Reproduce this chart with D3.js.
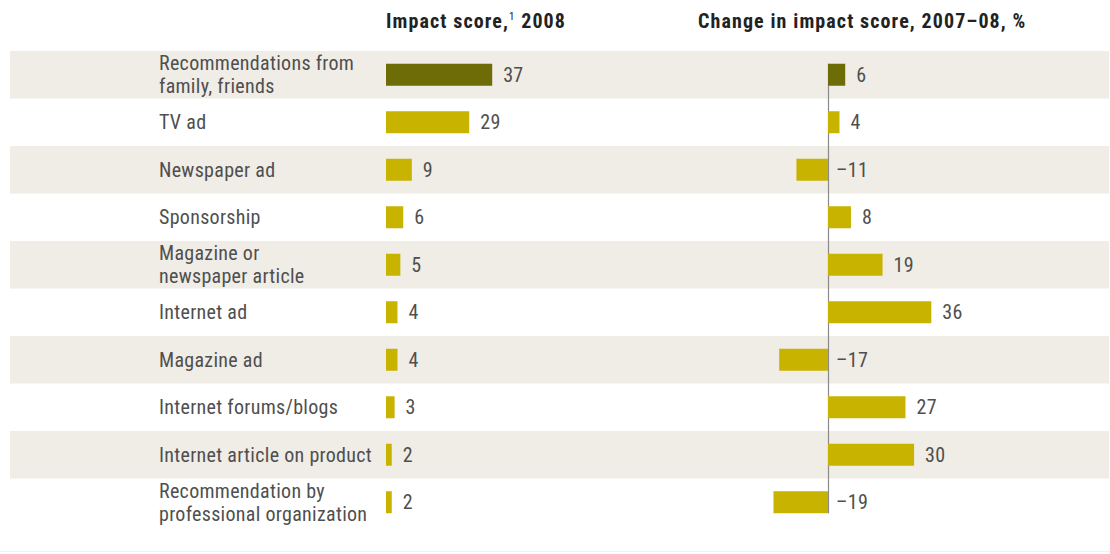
<!DOCTYPE html>
<html>
<head>
<meta charset="utf-8">
<script src="https://cdn.jsdelivr.net/npm/d3@7"></script>
<style>
  html, body { margin: 0; padding: 0; background: #ffffff; }
  svg { display: block; }
  .lbl { font-family: "Liberation Sans Narrow", "Arial Narrow", "Roboto Condensed", sans-serif; font-stretch: condensed; }
</style>
</head>
<body>
<svg id="chart" width="1110" height="554"></svg>
<script>
// Media sources, in display order (line breaks mark two-line labels)
const categories = [
  "Recommendations from\nfamily, friends",
  "TV ad",
  "Newspaper ad",
  "Sponsorship",
  "Magazine or\nnewspaper article",
  "Internet ad",
  "Magazine ad",
  "Internet forums/blogs",
  "Internet article on product",
  "Recommendation by\nprofessional organization"
];
// Impact score, 2008
const impactScores = [37, 29, 9, 6, 5, 4, 4, 3, 2, 2];
// Change in impact score, 2007–08, %
const impactChange = [6, 4, -11, 8, 19, 36, -17, 27, 30, -19];

const headers = ["Impact score,", "1", " 2008", "Change in impact score, 2007–08, %"];

const W = 1110, H = 554;
const svg = d3.select("#chart");

const colDark = "#6d6c06";
const colGold = "#c8b301";
const bandFill = "#f0ece6";
const textCol = "#4f4f4f";
const fs = 20, ls = 0.3;

const rows = d3.range(categories.length);
const y = d3.scaleBand().domain(rows).range([51, 526]).padding(0);
const barH = 22;

// Both panels share the same units-per-pixel ratio
const xLeft = d3.scaleLinear().domain([0, 40]).range([386, 386 + 40 * 2.87]);
const xRight = d3.scaleLinear().domain([-20, 40]).range([828 - 20 * 2.87, 828 + 40 * 2.87]);

// Alternating row bands
svg.append("g").selectAll("rect")
  .data(rows.filter(i => i % 2 === 0))
  .join("rect")
  .attr("x", 10).attr("width", 1099)
  .attr("y", i => y(i)).attr("height", y.bandwidth())
  .attr("fill", bandFill);

// faint rule at the foot
svg.append("line")
  .attr("x1", 0).attr("x2", W).attr("y1", 551.5).attr("y2", 551.5)
  .attr("stroke", "#f1f1f1").attr("stroke-width", 1);

// Column headers
const h1 = svg.append("text").attr("class", "lbl")
  .attr("x", xLeft(0)).attr("y", 28)
  .attr("font-size", 20).attr("letter-spacing", 1.1)
  .attr("font-weight", "bold").attr("fill", "#222");
h1.append("tspan").text(headers[0]);
h1.append("tspan").text(headers[1]).attr("font-size", 11).attr("font-weight", "normal").attr("dy", -8);
h1.append("tspan").text(headers[2]).attr("dy", 8);

svg.append("text").attr("class", "lbl")
  .attr("x", 698).attr("y", 28)
  .attr("font-size", 20).attr("letter-spacing", 1.1)
  .attr("font-weight", "bold").attr("fill", "#222")
  .text(headers[3]);

// Category labels
const cy = i => y(i) + y.bandwidth() / 2;
const labels = svg.append("g").selectAll("text")
  .data(rows).join("text")
  .attr("class", "lbl")
  .attr("x", 159)
  .attr("font-size", fs).attr("letter-spacing", ls)
  .attr("fill", textCol);
labels.each(function(i) {
  const parts = categories[i].split("\n");
  const t = d3.select(this);
  if (parts.length === 1) {
    t.attr("y", cy(i) + 7).text(parts[0]);
  } else {
    t.attr("y", cy(i) - 4.5);
    t.append("tspan").attr("x", 159).text(parts[0]);
    t.append("tspan").attr("x", 159).attr("dy", 23).text(parts[1]);
  }
});

// Left panel: impact score bars
svg.append("g").selectAll("rect")
  .data(rows).join("rect")
  .attr("x", xLeft(0))
  .attr("width", i => xLeft(impactScores[i]) - xLeft(0))
  .attr("y", i => cy(i) - barH / 2).attr("height", barH)
  .attr("fill", i => i === 0 ? colDark : colGold);

svg.append("g").selectAll("text")
  .data(rows).join("text")
  .attr("class", "lbl")
  .attr("x", i => xLeft(impactScores[i]) + 11)
  .attr("y", i => cy(i) + 7)
  .attr("font-size", fs).attr("letter-spacing", ls).attr("fill", textCol)
  .text(i => impactScores[i]);

// Right panel: zero line
svg.append("line")
  .attr("x1", xRight(0) + 0.5).attr("x2", xRight(0) + 0.5)
  .attr("y1", cy(0) - barH / 2).attr("y2", cy(rows.length - 1) + barH / 2)
  .attr("stroke", "#8a8a8a").attr("stroke-width", 1.2);

svg.append("g").selectAll("rect")
  .data(rows).join("rect")
  .attr("x", i => xRight(Math.min(0, impactChange[i])))
  .attr("width", i => Math.abs(xRight(impactChange[i]) - xRight(0)))
  .attr("y", i => cy(i) - barH / 2).attr("height", barH)
  .attr("fill", i => i === 0 ? colDark : colGold);

const fmt = v => v < 0 ? "\u2013" + Math.abs(v) : String(v);
svg.append("g").selectAll("text")
  .data(rows).join("text")
  .attr("class", "lbl")
  .attr("x", i => impactChange[i] < 0 ? xRight(0) + 8 : xRight(impactChange[i]) + 11)
  .attr("y", i => cy(i) + 7)
  .attr("font-size", fs).attr("letter-spacing", ls).attr("fill", textCol)
  .text(i => fmt(impactChange[i]));
</script>
</body>
</html>
